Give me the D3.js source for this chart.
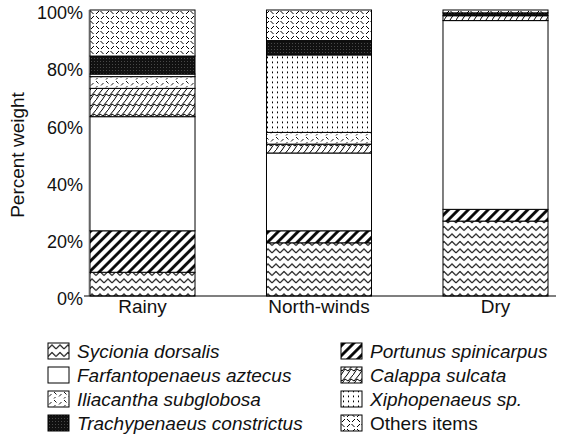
<!DOCTYPE html>
<html>
<head>
<meta charset="utf-8">
<script src="https://cdn.jsdelivr.net/npm/d3@7/dist/d3.min.js"></script>
<style>
  html, body { margin: 0; padding: 0; background: #fff; }
  svg { display: block; font-family: "Liberation Sans", Arial, Helvetica, sans-serif; }
</style>
</head>
<body>
<svg id="chart" width="575" height="444"></svg>
<script>
// ---- data ----
const categories = ["Rainy", "North-winds", "Dry"];
const species = ["Sycionia dorsalis", "Portunus spinicarpus", "Farfantopenaeus aztecus", "Calappa sulcata",
                 "Iliacantha subglobosa", "Xiphopenaeus sp.", "Trachypenaeus constrictus", "Others items"];
const sycioniaDorsalis       = [8.3, 18.6, 26.2];
const portunusSpinicarpus    = [14.5, 4.2, 4.1];
const farfantopenaeusAztecus = [39.9, 27.2, 66.0];
const calappaSulcata         = [9.9, 3.1, 1.7];
const iliacanthaSubglobosa   = [4.1, 4.1, 0.0];
const xiphopenaeusSp         = [0.9, 27.1, 0.0];
const trachypenaeusConstrictus = [6.3, 5.0, 1.0];
const othersItems            = [16.1, 10.7, 1.0];
const yTicks = [0, 20, 40, 60, 80, 100];
const legendOrder = ["Sycionia dorsalis", "Farfantopenaeus aztecus", "Iliacantha subglobosa", "Trachypenaeus constrictus",
                     "Portunus spinicarpus", "Calappa sulcata", "Xiphopenaeus sp.", "Others items"];

const seriesValues = [sycioniaDorsalis, portunusSpinicarpus, farfantopenaeusAztecus, calappaSulcata,
                      iliacanthaSubglobosa, xiphopenaeusSp, trachypenaeusConstrictus, othersItems];
const table = categories.map((c, i) => {
  const row = { category: c };
  species.forEach((s, j) => row[s] = seriesValues[j][i]);
  return row;
});

const svg = d3.select("#chart");
const defs = svg.append("defs");

function pat(id, w, h, build, transform) {
  const p = defs.append("pattern").attr("id", id).attr("patternUnits", "userSpaceOnUse")
    .attr("width", w).attr("height", h);
  if (transform) p.attr("patternTransform", transform);
  p.append("rect").attr("width", w).attr("height", h).attr("fill", "#fff");
  build(p);
  return p;
}
// Sycionia: horizontal zigzag
pat("p-syc", 8, 7.5, p => {
  p.append("path").attr("d", "M0,5.5 L4,1.5 L8,5.5").attr("fill", "none").attr("stroke", "#000").attr("stroke-width", 1);
});
// Portunus: thick diagonals
pat("p-port", 7, 7, p => {
  p.append("line").attr("x1", 3.5).attr("y1", -1).attr("x2", 3.5).attr("y2", 8).attr("stroke", "#000").attr("stroke-width", 2.8);
}, "rotate(45)");
// Farfantopenaeus: white
pat("p-farf", 4, 4, p => {});
// Calappa: zigzag diagonals (sparser)
pat("p-cal", 12, 10, p => {
  p.append("path").attr("d", "M0,10 L4,4 L7,6 L12,0 M-6,10 L-2,4 L1,6 L6,0 M6,10 L10,4 L13,6 L18,0")
    .attr("fill", "none").attr("stroke", "#000").attr("stroke-width", 1);
});
// Iliacantha: sparse short dashes
pat("p-ili", 10, 8, p => {
  p.append("path").attr("d", "M1,5.5 L3.5,3 M6,1 L8.5,3.5 M6,7.5 L7.5,6")
    .attr("fill", "none").attr("stroke", "#000").attr("stroke-width", 0.9);
});
// Xiphopenaeus: dotted grid
pat("p-xip", 5, 5, p => {
  p.append("rect").attr("x", 2).attr("y", 1.5).attr("width", 1).attr("height", 1.8).attr("fill", "#000");
});
// Trachypenaeus: black stipple
pat("p-tra", 3, 3, p => {
  p.select("rect").attr("fill", "#111");
  p.append("rect").attr("x", 1).attr("y", 1).attr("width", 0.8).attr("height", 0.8).attr("fill", "#666");
});
// Others: diamond-plate dashes
pat("p-oth", 10, 10, p => {
  p.append("path").attr("d", "M0.5,1 L3.5,4 M6,4 L9,1 M1,9 L4,6 M6,6 L9,9")
    .attr("fill", "none").attr("stroke", "#000").attr("stroke-width", 1);
});

const fillFor = {
  "Sycionia dorsalis": "url(#p-syc)",
  "Portunus spinicarpus": "url(#p-port)",
  "Farfantopenaeus aztecus": "url(#p-farf)",
  "Calappa sulcata": "url(#p-cal)",
  "Iliacantha subglobosa": "url(#p-ili)",
  "Xiphopenaeus sp.": "url(#p-xip)",
  "Trachypenaeus constrictus": "url(#p-tra)",
  "Others items": "url(#p-oth)"
};

const x = d3.scaleBand().domain(categories).range([54.25, 583.75]).paddingInner(0.405).paddingOuter(0.2025);
const y = d3.scaleLinear().domain([0, 100]).range([296, 10]);

const stack = d3.stack().keys(species)(table);

// y axis (text only + faint line)
svg.append("line").attr("x1", 89).attr("x2", 89).attr("y1", y(100)).attr("y2", y(0))
  .attr("stroke", "#888").attr("stroke-width", 0.8);
const yAxis = d3.axisLeft(y).tickValues(yTicks).tickFormat(d => d + "%").tickSize(0).tickPadding(5);
const gy = svg.append("g").attr("transform", "translate(88,3)").call(yAxis);
gy.select(".domain").remove();
gy.selectAll("text").attr("font-size", 18).attr("fill", "#111").attr("font-family", "Liberation Sans, Arial, sans-serif");

// bars
const layers = svg.append("g").selectAll("g").data(stack).join("g")
  .attr("fill", d => fillFor[d.key]);
layers.selectAll("rect").data(d => d.filter(s => s[1] - s[0] > 0)).join("rect")
  .attr("x", d => x(d.data.category))
  .attr("width", x.bandwidth())
  .attr("y", d => y(d[1]))
  .attr("height", d => y(d[0]) - y(d[1]))
  .attr("stroke", "#000").attr("stroke-width", 1);

// baseline
svg.append("line").attr("x1", 84).attr("x2", 556).attr("y1", y(0)).attr("y2", y(0))
  .attr("stroke", "#000").attr("stroke-width", 1.2);

// x axis labels
const xAxis = d3.axisBottom(x).tickSize(0).tickPadding(4);
const gx = svg.append("g").attr("transform", `translate(0,${y(0)})`).call(xAxis);
gx.select(".domain").remove();
gx.selectAll("text").attr("font-size", 19).attr("fill", "#111").attr("font-family", "Liberation Sans, Arial, sans-serif");

// y title
svg.append("text").attr("transform", "translate(24,155) rotate(-90)")
  .attr("text-anchor", "middle").attr("font-size", 19).attr("fill", "#111").text("Percent weight");

// legend
const leg = svg.append("g").selectAll("g").data(legendOrder).join("g")
  .attr("transform", (d, i) => `translate(${i < 4 ? 48 : 341},${351 + (i % 4) * 24})`);
leg.append("rect").attr("x", 0).attr("y", -8).attr("width", 21).attr("height", 16)
  .attr("fill", d => fillFor[d]).attr("stroke", "#000").attr("stroke-width", 1);
leg.append("text").attr("x", 29).attr("y", 0).attr("dy", "0.35em")
  .attr("font-size", 19).attr("fill", "#111")
  .attr("font-style", d => d === "Others items" ? "normal" : "italic")
  .text(d => d);
</script>
</body>
</html>
